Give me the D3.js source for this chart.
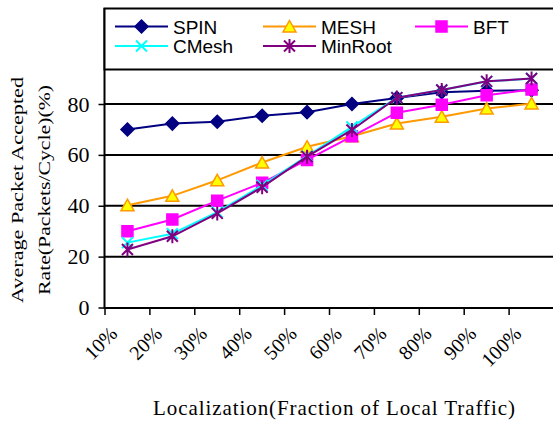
<!DOCTYPE html>
<html><head><meta charset="utf-8">
<script src="https://cdn.jsdelivr.net/npm/d3@7"></script>
<style>html,body{margin:0;padding:0;background:#fff;}svg{display:block;}</style>
</head><body>
<script>
const categories = ["10%","20%","30%","40%","50%","60%","70%","80%","90%","100%"];
const yTicks = [0,20,40,60,80];
const seriesNames = ["SPIN","MESH","BFT","CMesh","MinRoot"];
const spin    = [70, 72.3, 73, 75.4, 76.8, 80, 82.4, 84.6, 85.2, 85.4];
const mesh    = [40.2, 43.9, 50, 57, 63.2, 67.3, 72.3, 75, 78.2, 80.2];
const bft     = [30, 34.6, 42, 49, 58, 67.3, 76.6, 79.7, 83.4, 85.7];
const cmesh   = [25.5, 29, 37.5, 48, 59.5, 71, 82.5, 85.5, 88.8, 90];
const minroot = [22.8, 28, 37, 47.3, 59.3, 69.8, 82.5, 85.5, 88.9, 90];

const W = 553, H = 421;
const svg = d3.select("body").append("svg").attr("width", W).attr("height", H);

const x = d3.scaleBand().domain(categories).range([105, 554]).padding(0);
const y = d3.scaleLinear().domain([0, 80]).range([307.5, 104]);

const styles = {
  SPIN:    {line:"#000080", fill:"#000080", stroke:"#000080", shape:"diamond"},
  MESH:    {line:"#FF9900", fill:"#FFFF00", stroke:"#FF9900", shape:"triangle"},
  BFT:     {line:"#FF00FF", fill:"#FF00FF", stroke:"#FF00FF", shape:"square"},
  CMesh:   {line:"#00FFFF", fill:"none",    stroke:"#00FFFF", shape:"cross"},
  MinRoot: {line:"#800080", fill:"none",    stroke:"#800080", shape:"star"}
};
const values = {SPIN: spin, MESH: mesh, BFT: bft, CMesh: cmesh, MinRoot: minroot};

function markerPath(shape){
  switch(shape){
    case "diamond": return "M0,-6.5L6.5,0L0,6.5L-6.5,0Z";
    case "triangle": return "M0,-6L6.5,5.5L-6.5,5.5Z";
    case "square": return "M-5.5,-5.5H5.5V5.5H-5.5Z";
    case "cross": return "M-5.5,-5.5L5.5,5.5M-5.5,5.5L5.5,-5.5";
    case "star": return "M-5.5,-5.5L5.5,5.5M-5.5,5.5L5.5,-5.5M0,-7V7";
  }
}

// gridlines
svg.append("g").selectAll("line").data(yTicks.filter(d => d > 0)).join("line")
  .attr("x1", 104).attr("x2", W).attr("y1", d => y(d)).attr("y2", d => y(d))
  .attr("stroke", "#000").attr("stroke-width", 2);

// Y axis
const yAxis = d3.axisLeft(y).tickValues(yTicks).tickSize(6).tickPadding(9).tickFormat(d3.format("d"));
const gy = svg.append("g").attr("transform", "translate(104.5,0)").call(yAxis);
gy.select(".domain").remove();
gy.selectAll(".tick line").attr("stroke", "#000").attr("stroke-width", 1.5);
gy.selectAll(".tick text").attr("font-family", "Liberation Serif, Times New Roman, serif")
  .attr("font-size", 22).attr("fill", "#000");
svg.append("line").attr("x1", 104.5).attr("x2", 104.5).attr("y1", 8).attr("y2", 309)
  .attr("stroke", "#000").attr("stroke-width", 2);

// X axis
const gx = svg.append("g").attr("transform", "translate(0,308)");
gx.append("line").attr("x1", 104).attr("x2", W).attr("y1", 0).attr("y2", 0)
  .attr("stroke", "#000").attr("stroke-width", 2);
gx.selectAll("line.tk").data(categories).join("line").attr("class","tk")
  .attr("x1", d => x(d)).attr("x2", d => x(d)).attr("y1", 0).attr("y2", 7)
  .attr("stroke", "#000").attr("stroke-width", 1.5);
gx.selectAll("text").data(categories).join("text")
  .attr("transform", d => `translate(${x(d) + x.bandwidth()/2 - 9},${27}) rotate(-45)`)
  .attr("text-anchor", "end")
  .attr("font-family", "Liberation Serif, Times New Roman, serif")
  .attr("font-size", 20).attr("fill", "#000")
  .text(d => d);

// Series
seriesNames.forEach(name => {
  const st = styles[name];
  const vals = values[name];
  const line = d3.line().x((d,i) => x(categories[i]) + x.bandwidth()/2).y(d => y(d));
  svg.append("path").datum(vals).attr("d", line)
    .attr("fill", "none").attr("stroke", st.line).attr("stroke-width", 2);
  svg.append("g").selectAll("path").data(vals).join("path")
    .attr("transform", (d,i) => `translate(${x(categories[i]) + x.bandwidth()/2},${y(d)})`)
    .attr("d", markerPath(st.shape))
    .attr("fill", st.fill).attr("stroke", st.stroke)
    .attr("stroke-width", (st.shape === "cross" || st.shape === "star") ? 2 : 1.5);
});

// Legend
const lg = svg.append("g");
lg.append("rect").attr("x", 104.5).attr("y", 8.5).attr("width", 470).attr("height", 61)
  .attr("fill", "#fff").attr("stroke", "#000").attr("stroke-width", 2);
const legendPos = [
  {x: 115, y: 26.5}, {x: 263, y: 26.5}, {x: 415, y: 26.5},
  {x: 115, y: 46}, {x: 263, y: 46}
];
seriesNames.forEach((name, i) => {
  const st = styles[name], p = legendPos[i];
  lg.append("line").attr("x1", p.x).attr("x2", p.x + 53).attr("y1", p.y).attr("y2", p.y)
    .attr("stroke", st.line).attr("stroke-width", 2);
  lg.append("path").attr("transform", `translate(${p.x + 26.5},${p.y})`)
    .attr("d", markerPath(st.shape)).attr("fill", st.fill).attr("stroke", st.stroke)
    .attr("stroke-width", (st.shape === "cross" || st.shape === "star") ? 2 : 1.5);
  lg.append("text").attr("x", p.x + 58).attr("y", p.y + 7)
    .attr("font-family", "Liberation Sans, Arial, sans-serif").attr("font-size", 19)
    .attr("fill", "#000").text(name);
});

// Axis titles
const yl = svg.append("g").attr("transform", "translate(0,190)");
yl.append("text").attr("transform", "translate(23,0) rotate(-90) scale(1,0.8)")
  .attr("text-anchor", "middle").attr("font-family", "Liberation Serif, Times New Roman, serif")
  .attr("font-size", 21).attr("textLength", 226).attr("lengthAdjust", "spacingAndGlyphs")
  .text("Average Packet Accepted");
yl.append("text").attr("transform", "translate(50,0) rotate(-90) scale(1,0.8)")
  .attr("text-anchor", "middle").attr("font-family", "Liberation Serif, Times New Roman, serif")
  .attr("font-size", 21).attr("textLength", 210).attr("lengthAdjust", "spacingAndGlyphs")
  .text("Rate(Packets/Cycle)(%)");

svg.append("text").attr("x", 334).attr("y", 415).attr("text-anchor", "middle")
  .attr("font-family", "Liberation Serif, Times New Roman, serif").attr("font-size", 21)
  .attr("textLength", 362).attr("lengthAdjust", "spacing")
  .text("Localization(Fraction of Local Traffic)");
</script>
</body></html>
